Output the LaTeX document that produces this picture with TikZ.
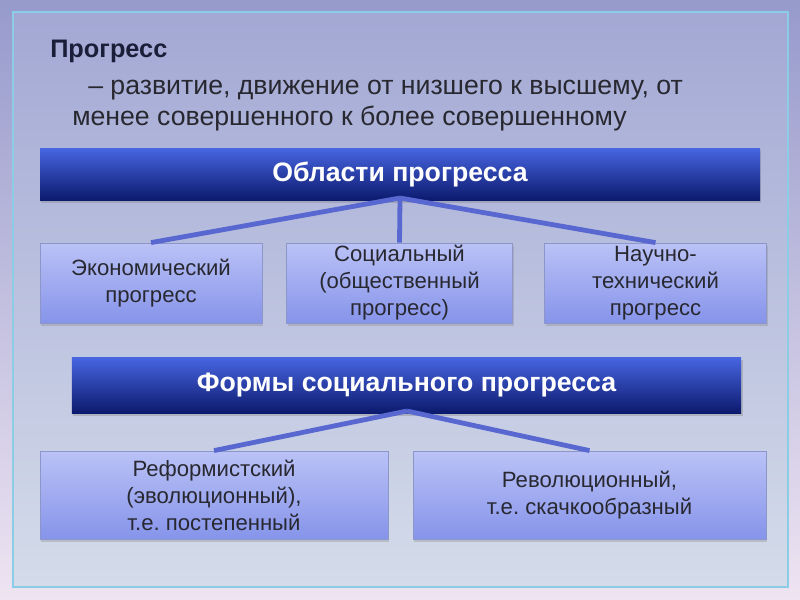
\documentclass[tikz,border=0pt]{standalone}
\usepackage{fontspec}
\setmainfont{Liberation Sans}
\usetikzlibrary{shadows}
\frenchspacing
\definecolor{outertop}{RGB}{150,154,204}
\definecolor{outerbot}{RGB}{238,228,242}
\definecolor{paneltop}{RGB}{163,168,212}
\definecolor{panelbot}{RGB}{212,220,234}
\definecolor{framecol}{RGB}{140,205,230}
\definecolor{hdrtop}{RGB}{72,102,226}
\definecolor{hdrbot}{RGB}{12,26,110}
\definecolor{boxtop}{RGB}{186,194,246}
\definecolor{boxbot}{RGB}{134,148,234}
\definecolor{boxline}{RGB}{140,150,200}
\definecolor{linkcol}{RGB}{88,104,208}
\definecolor{txtdark}{RGB}{40,40,48}
\definecolor{titlecol}{RGB}{26,30,56}
\tikzset{
  hdr/.style={rectangle, top color=hdrtop, bottom color=hdrbot, draw=none,
    text=white, font=\fontsize{20}{24}\selectfont\bfseries,
    drop shadow={opacity=0.35, shadow xshift=1pt, shadow yshift=-2pt}},
  leaf/.style={rectangle, top color=boxtop, bottom color=boxbot, draw=boxline, line width=0.6pt,
    text=txtdark, font=\fontsize{16.6}{20.3}\selectfont\frenchspacing, align=center, inner ysep=0pt,
    drop shadow={opacity=0.3, shadow xshift=1pt, shadow yshift=-2pt}},
  link/.style={draw=linkcol, line width=3.6pt}
}
\begin{document}
\begin{tikzpicture}[x=0.75pt, y=-0.75pt]
\useasboundingbox (0,0) rectangle (800,600);
% background
\shade[top color=outertop, bottom color=outerbot] (0,0) rectangle (800,600);
\shade[top color=paneltop, bottom color=panelbot, draw=framecol, line width=1.5pt] (13,12) rectangle (788,587);
% title text
\node[anchor=base west, text=titlecol, font=\fontsize{19}{22}\selectfont\bfseries, inner sep=0] (title) at (50,57) {Прогресс};
\node[anchor=base west, text=txtdark, font=\fontsize{20}{24}\selectfont, inner sep=0] (def1) at (88,94) {– развитие, движение от низшего к высшему, от};
\node[anchor=base west, text=txtdark, font=\fontsize{20}{24}\selectfont, inner sep=0] (def2) at (72,125) {менее совершенного к более совершенному};
% header 1
\node[hdr, minimum width=540pt, minimum height=39pt] (h1) at (400,174) {Области прогресса};
% row 1
\node[leaf, minimum width=166.5pt, minimum height=60pt] (b1) at (151,283) {Экономический\\прогресс};
\node[leaf, minimum width=170pt, minimum height=60pt] (b2) at (399.5,283) {Социальный\\(общественный\\прогресс)};
\node[leaf, minimum width=166pt, minimum height=60pt] (b3) at (655.5,283) {Научно-\\технический\\прогресс};
\coordinate (j1) at (400,198);
\draw[link] (j1) -- (b1.north);
\draw[link] (j1) -- (b2.north);
\draw[link] (j1) -- (b3.north);
% header 2
\node[hdr, minimum width=502pt, minimum height=42pt] (h2) at (406.5,385) {Формы социального прогресса};
% row 2
\node[leaf, minimum width=261pt, minimum height=66pt] (b4) at (214,495) {Реформистский\\(эволюционный),\\т.е. постепенный};
\node[leaf, minimum width=264.75pt, minimum height=66pt] (b5) at (589.5,495) {Революционный,\\т.е. скачкообразный};
\coordinate (j2) at (407,411);
\draw[link] (j2) -- (b4.north);
\draw[link] (j2) -- (b5.north);
\end{tikzpicture}
\end{document}
